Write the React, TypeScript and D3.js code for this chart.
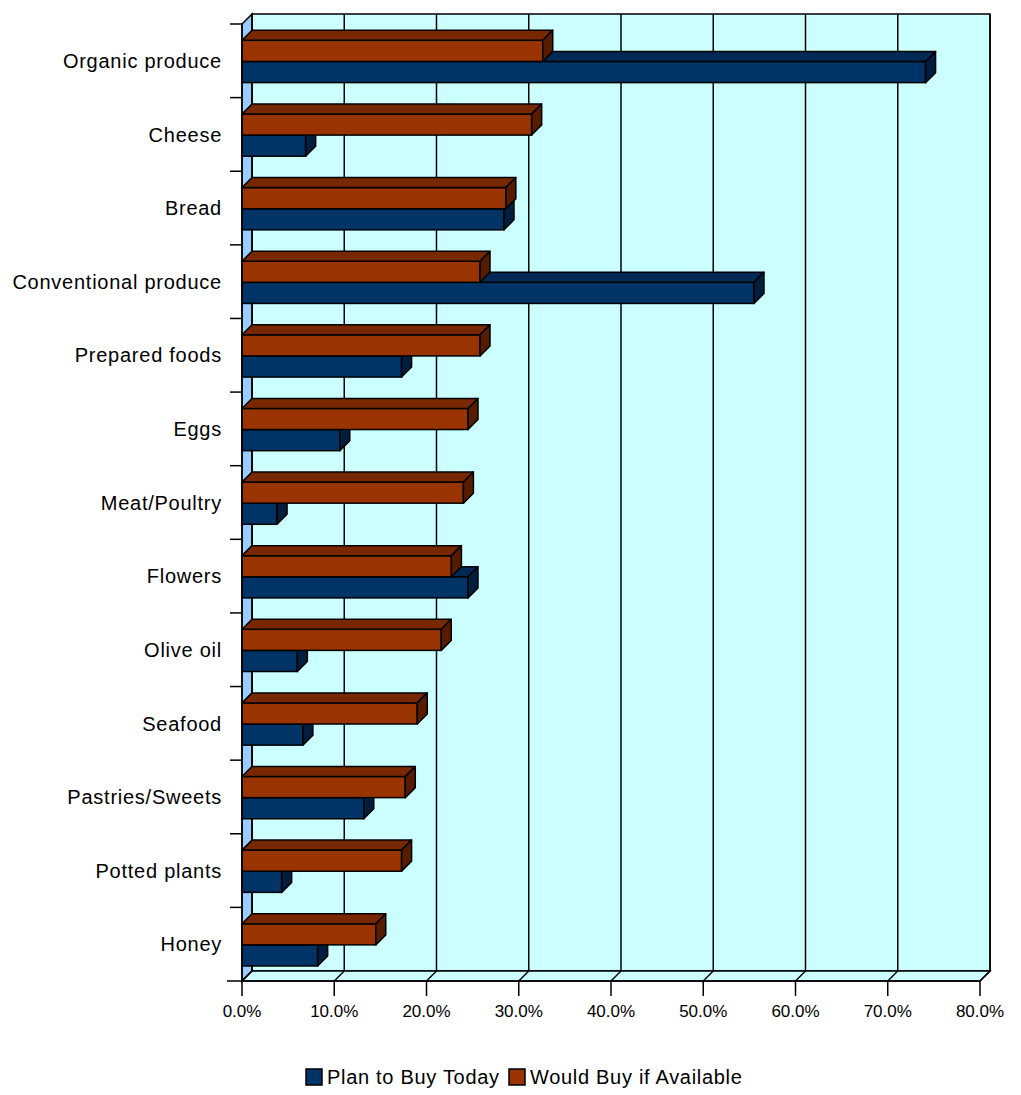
import React from "react";
import * as d3 from "d3";

const categories = [
  "Organic produce",
  "Cheese",
  "Bread",
  "Conventional produce",
  "Prepared foods",
  "Eggs",
  "Meat/Poultry",
  "Flowers",
  "Olive oil",
  "Seafood",
  "Pastries/Sweets",
  "Potted plants",
  "Honey",
];
const planToBuy = [74.1, 6.9, 28.4, 55.5, 17.3, 10.6, 3.8, 24.5, 6.0, 6.6, 13.2, 4.3, 8.2];
const wouldBuy = [32.6, 31.4, 28.6, 25.8, 25.8, 24.5, 24.0, 22.7, 21.6, 19.0, 17.7, 17.3, 14.5];
const xTicks = [0, 10, 20, 30, 40, 50, 60, 70, 80];
const seriesNames = ["Plan to Buy Today", "Would Buy if Available"];

const W = 1021;
const H = 1095;
const X0 = 242;
const X1 = 980;
const Y0 = 24;
const Y1 = 981;
const DX = 10;
const DY = 10;
const FONT = "'Liberation Sans', Arial, sans-serif";
const SW = 1.5;

const blue = { front: "#003366", top: "#002a55", side: "#001e3e" };
const orange = { front: "#993300", top: "#772800", side: "#561c00" };

export default function App() {
  const x = d3.scaleLinear().domain([0, 80]).range([X0, X1]);
  const y = d3.scaleBand<string>().domain(categories).range([Y0, Y1]);
  const bw = y.bandwidth();
  const barH = bw * 0.287;
  const groupTop = bw * 0.222;

  const pts = (p: [number, number][]) => p.map((q) => q.join(",")).join(" ");

  const bar = (v: number, top: number, c: typeof blue, key: string) => {
    const xr = x(v);
    const bot = top + barH;
    return (
      <g key={key}>
        <rect x={X0} y={top} width={xr - X0} height={barH} fill={c.front} stroke="#000" strokeWidth={SW} />
        <polygon
          points={pts([[X0, top], [X0 + DX, top - DY], [xr + DX, top - DY], [xr, top]])}
          fill={c.top}
          stroke="#000"
          strokeWidth={SW}
          strokeLinejoin="round"
        />
        <polygon
          points={pts([[xr, top], [xr + DX, top - DY], [xr + DX, bot - DY], [xr, bot]])}
          fill={c.side}
          stroke="#000"
          strokeWidth={SW}
          strokeLinejoin="round"
        />
      </g>
    );
  };

  return (
    <svg
      width={W}
      height={H}
      style={{ position: "absolute", left: 0, top: 0, background: "#fff" }}
      fontFamily={FONT}
    >
      {/* back wall */}
      <rect x={X0 + DX} y={Y0 - DY} width={X1 - X0} height={Y1 - Y0} fill="#CCFFFF" stroke="#000" strokeWidth={SW} />
      {/* left wall */}
      <polygon
        points={pts([[X0, Y0], [X0 + DX, Y0 - DY], [X0 + DX, Y1 - DY], [X0, Y1]])}
        fill="#99CCFF"
        stroke="#000"
        strokeWidth={SW}
      />
      {/* floor */}
      <polygon
        points={pts([[X0, Y1], [X0 + DX, Y1 - DY], [X1 + DX, Y1 - DY], [X1, Y1]])}
        fill="#CCFFFF"
        stroke="#000"
        strokeWidth={SW}
      />
      {/* gridlines */}
      {xTicks.map((t) => (
        <g key={"g" + t}>
          <line x1={x(t) + DX} x2={x(t) + DX} y1={Y0 - DY} y2={Y1 - DY} stroke="#000" strokeWidth={SW} />
          <line x1={x(t)} x2={x(t) + DX} y1={Y1} y2={Y1 - DY} stroke="#000" strokeWidth={SW} />
        </g>
      ))}
      {/* bars */}
      {categories.map((c, i) => {
        const top = (y(c) as number) + groupTop;
        return (
          <g key={c}>
            {bar(planToBuy[i], top + barH, blue, "b")}
            {bar(wouldBuy[i], top, orange, "o")}
          </g>
        );
      })}
      {/* y axis */}
      <line x1={X0} x2={X0} y1={Y0} y2={Y1} stroke="#000" strokeWidth={SW} />
      {categories.map((c) => (
        <line key={"t" + c} x1={X0 - 12} x2={X0} y1={y(c) as number} y2={y(c) as number} stroke="#000" strokeWidth={SW} />
      ))}
      {categories.map((c) => (
        <text
          key={"l" + c}
          x={222}
          y={(y(c) as number) + bw / 2}
          dy="0.36em"
          textAnchor="end"
          fontSize={20}
          letterSpacing={0.75}
          fill="#000"
        >
          {c}
        </text>
      ))}
      {/* x axis */}
      <line x1={X0 - 15} x2={X1} y1={Y1} y2={Y1} stroke="#000" strokeWidth={SW} />
      {xTicks.map((t) => (
        <g key={"x" + t}>
          <line x1={x(t)} x2={x(t)} y1={Y1} y2={Y1 + 15} stroke="#000" strokeWidth={SW} />
          <text x={x(t)} y={1017} textAnchor="middle" fontSize={17} fill="#000">
            {d3.format(".1f")(t) + "%"}
          </text>
        </g>
      ))}
      {/* legend */}
      <g>
        <rect x={306} y={1069} width={16} height={16} fill={blue.front} stroke="#000" strokeWidth={SW} />
        <text x={327} y={1084} fontSize={20} letterSpacing={0.7} fill="#000">
          {seriesNames[0]}
        </text>
        <rect x={509} y={1069} width={16} height={16} fill={orange.front} stroke="#000" strokeWidth={SW} />
        <text x={530} y={1084} fontSize={20} letterSpacing={0.7} fill="#000">
          {seriesNames[1]}
        </text>
      </g>
    </svg>
  );
}
